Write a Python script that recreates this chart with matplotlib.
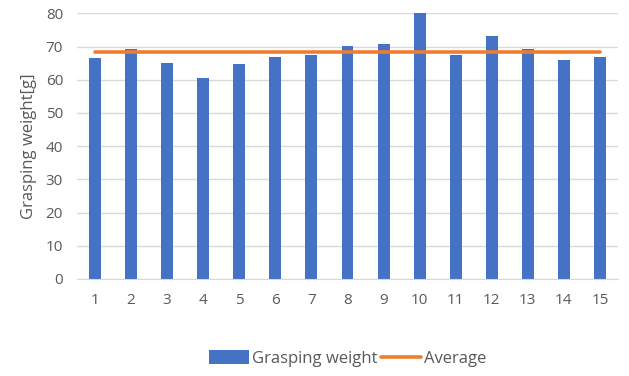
import matplotlib
matplotlib.use("Agg")
import matplotlib.pyplot as plt
import numpy as np

categories = [str(i) for i in range(1, 16)]
weights = [66.6, 69.2, 65.1, 60.5, 64.6, 66.8, 67.3, 70.1, 70.9, 80.0, 67.4, 73.1, 69.2, 65.8, 66.8]
average = [68.4] * 15
yticks = [0, 10, 20, 30, 40, 50, 60, 70, 80]

plt.rcParams['font.family'] = ['Open Sans', 'DejaVu Sans']
txt = '#595959'

fig = plt.figure(figsize=(6.29, 3.76), dpi=100)
ax = fig.add_axes([0.1224, 0.258, 0.8601, 0.7066])
x = np.arange(len(categories))
bars = ax.bar(x, weights, width=0.33, color='#4472C4', label='Grasping weight', zorder=2)
line, = ax.plot(x, average, color='#ED7D31', lw=2.6, label='Average', zorder=3, solid_capstyle='round')

ax.set_xlim(-0.5, len(categories) - 0.5)
ax.set_ylim(0, 80)
ax.set_yticks(yticks)
ax.set_xticks(x)
ax.set_xticklabels(categories)
ax.yaxis.grid(True, color='#d9d9d9', lw=1, zorder=0)
ax.set_axisbelow(True)
for s in ['top', 'right', 'left']:
    ax.spines[s].set_visible(False)
ax.spines['bottom'].set_color('#d9d9d9')
ax.tick_params(axis='both', length=0, colors=txt, labelsize=11)
ax.tick_params(axis='x', pad=10)
ax.tick_params(axis='y', pad=10)
ax.set_ylabel('Grasping weight[g]', color=txt, fontsize=12, labelpad=6)

leg = ax.legend([bars, line], ['Grasping weight', 'Average'], loc='center',
                bbox_to_anchor=(0.5, -0.3), ncol=2, frameon=False,
                fontsize=12, handlelength=2.4, handleheight=0.9,
                columnspacing=0.2, handletextpad=0.2)
for t in leg.get_texts():
    t.set_color(txt)

fig.savefig('out.png', dpi=100)
